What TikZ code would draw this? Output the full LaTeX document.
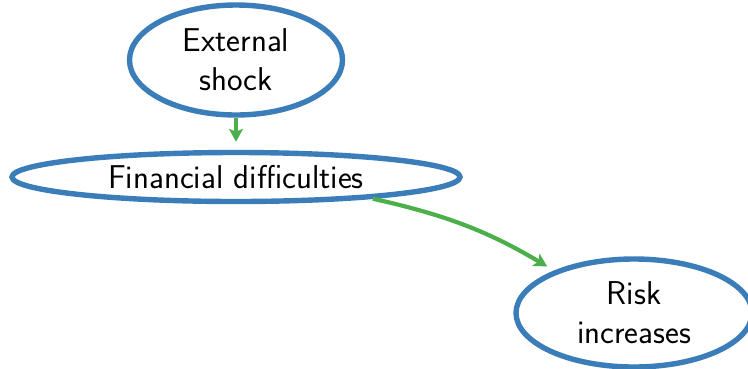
\documentclass[tikz,border=0pt]{standalone}
\usetikzlibrary{arrows.meta,shapes.geometric}
\definecolor{edgeblue}{RGB}{58,125,184}
\definecolor{flowgreen}{RGB}{76,176,74}
\begin{document}
\begin{tikzpicture}[x=1pt,y=-1pt,
  bubble/.style={ellipse,draw=edgeblue,line width=5.4pt,inner sep=0pt,
    align=center,font=\sffamily\fontsize{33}{39}\selectfont},
  flow/.style={draw=flowgreen,line width=4.2pt,
    -{Stealth[length=13pt,width=14pt,inset=3pt]}}]
\useasboundingbox (0,0) rectangle (748,368);
\node[bubble,minimum width=213pt,minimum height=110pt] (ext) at (236,60) {External\\shock};
\node[bubble,minimum width=448pt,minimum height=49pt] (fin) at (236,177) {Financial difficulties};
\node[bubble,minimum width=236pt,minimum height=108pt] (risk) at (634,313) {Risk\\increases};
\draw[flow,shorten >=8pt] (ext.south) -- (fin.north);
\draw[flow,shorten >=8pt] (fin.-9.2) to[bend left=9] (risk.152);
\end{tikzpicture}
\end{document}
